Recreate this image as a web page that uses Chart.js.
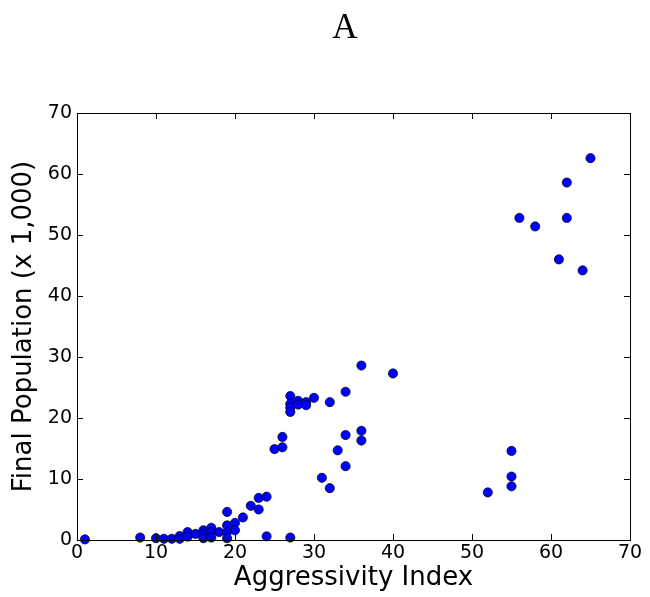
<!DOCTYPE html>
<html>
<head>
<meta charset="utf-8">
<script src="https://cdn.jsdelivr.net/npm/chart.js@4/dist/chart.umd.min.js"></script>
<style>
html,body{margin:0;padding:0;background:#fff;}
#wrap{width:650px;height:597px;position:relative;}
</style>
</head>
<body>
<div id="wrap"><canvas id="c" width="650" height="597"></canvas></div>
<script>
const aggressivity = [1,8,10,11,12,13,13,14,14,15,16,16,16,17,17,17,18,19,19,19,19,20,20,21,22,23,23,24,24,25,26,26,27,27,27,27,27,28,28,29,29,30,31,32,32,33,34,34,34,36,36,36,40,52,55,55,55,56,58,61,62,62,64,65];
const finalPopulation = [0.1,0.4,0.3,0.2,0.2,0.65,0.2,1.3,0.55,1.0,1.6,0.9,0.3,2.0,1.3,0.4,1.3,4.6,2.4,1.3,0.3,2.8,1.6,3.7,5.6,6.9,5.0,7.1,0.6,14.9,16.9,15.2,0.4,23.6,22.3,21.7,21.0,22.8,22.2,22.6,22.1,23.3,10.2,22.6,8.5,14.7,24.3,17.2,12.1,28.6,17.9,16.3,27.3,7.8,14.6,10.4,8.8,52.8,51.4,46.0,58.6,52.8,44.2,62.6];
const tickValues = [0,10,20,30,40,50,60,70];
const titleText = "A";
const xLabel = "Aggressivity Index";
const yLabel = "Final Population (x 1,000)";

const points = aggressivity.map((x,i)=>({x:x,y:finalPopulation[i]}));

const frameTicks = {
  id:'frameTicks',
  afterDraw(chart){
    const {ctx, chartArea:a, scales:{x,y}} = chart;
    ctx.save();
    ctx.strokeStyle='#000';
    ctx.lineWidth=1;
    ctx.strokeRect(Math.round(a.left)+0.5, Math.round(a.top)+0.5, Math.round(a.right-a.left), Math.round(a.bottom-a.top));
    const L=6;
    ctx.beginPath();
    tickValues.forEach(v=>{
      const px=Math.round(x.getPixelForValue(v))+0.5;
      ctx.moveTo(px,a.bottom); ctx.lineTo(px,a.bottom-L);
      ctx.moveTo(px,a.top); ctx.lineTo(px,a.top+L);
      const py=Math.round(y.getPixelForValue(v))+0.5;
      ctx.moveTo(a.left,py); ctx.lineTo(a.left+L,py);
      ctx.moveTo(a.right,py); ctx.lineTo(a.right-L,py);
    });
    ctx.stroke();
    ctx.fillStyle='#000';
    ctx.font='35px "Liberation Serif", "DejaVu Serif", serif';
    ctx.textAlign='center';
    ctx.textBaseline='alphabetic';
    ctx.fillText(titleText, 345, 38);
    ctx.restore();
  }
};

new Chart(document.getElementById('c'), {
  type:'scatter',
  data:{datasets:[{
    data:points,
    backgroundColor:'#0000ff',
    borderColor:'#000',
    borderWidth:0.7,
    pointRadius:4.6,
    clip:false
  }]},
  options:{
    responsive:false,
    animation:false,
    devicePixelRatio:1,
    layout:{padding:{top:113,right:20,left:0,bottom:0}},
    plugins:{legend:{display:false},tooltip:{enabled:false},title:{display:false}},
    scales:{
      x:{
        type:'linear',min:0,max:70,
        grid:{display:false,drawTicks:false},
        border:{display:false},
        ticks:{stepSize:10,color:'#000',font:{family:'"DejaVu Sans"',size:19},padding:2,maxRotation:0},
        title:{display:true,text:xLabel,color:'#000',font:{family:'"DejaVu Sans"',size:26},padding:{top:0,bottom:3}},
        afterFit(s){s.height=57;}
      },
      y:{
        type:'linear',min:0,max:70,
        grid:{display:false,drawTicks:false},
        border:{display:false},
        ticks:{stepSize:10,color:'#000',font:{family:'"DejaVu Sans"',size:19},padding:5},
        title:{display:true,text:yLabel,color:'#000',font:{family:'"DejaVu Sans"',size:26},padding:{top:9,bottom:0}},
        afterFit(s){s.width=77;}
      }
    }
  },
  plugins:[frameTicks]
});
</script>
</body>
</html>
